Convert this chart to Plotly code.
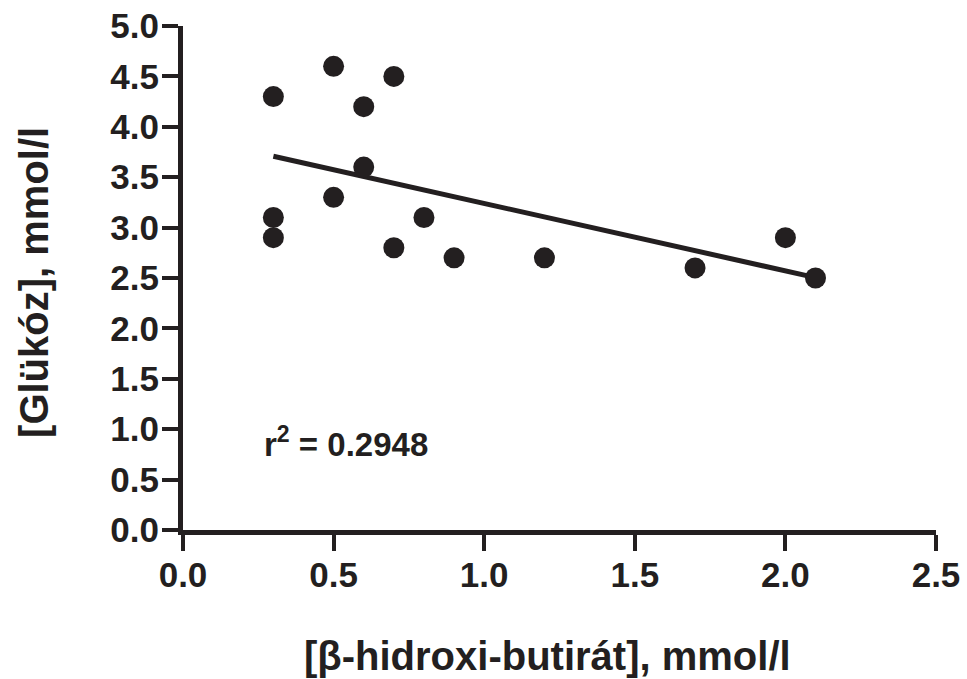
import numpy as np
import plotly.graph_objects as go

# Data
bhb = [0.3, 0.3, 0.3, 0.5, 0.5, 0.6, 0.6, 0.7, 0.7, 0.8, 0.9, 1.2, 1.7, 2.0, 2.1]
glucose = [4.3, 3.1, 2.9, 4.6, 3.3, 4.2, 3.6, 4.5, 2.8, 3.1, 2.7, 2.7, 2.6, 2.9, 2.5]
x_ticks = [0.0, 0.5, 1.0, 1.5, 2.0, 2.5]
y_ticks = [0.0, 0.5, 1.0, 1.5, 2.0, 2.5, 3.0, 3.5, 4.0, 4.5, 5.0]
r2_text = "r<sup>2</sup> = 0.2948"
x_title = "[β-hidroxi-butirát], mmol/l"
y_title = "[Glükóz], mmol/l"

INK = "#231f20"
FONT = "Liberation Sans, Arial, sans-serif"

slope, intercept = np.polyfit(bhb, glucose, 1)
fit_x = [min(bhb), max(bhb)]
fit_y = [slope * v + intercept for v in fit_x]

fig = go.Figure()
fig.add_trace(go.Scatter(x=fit_x, y=fit_y, mode="lines",
                         line=dict(color=INK, width=5), showlegend=False))
fig.add_trace(go.Scatter(x=bhb, y=glucose, mode="markers",
                         marker=dict(color=INK, size=21), showlegend=False))

axis_common = dict(showgrid=False, zeroline=False, showline=True, linewidth=5,
                   linecolor=INK, ticks="outside", ticklen=16, tickwidth=4,
                   tickcolor=INK, automargin=False,
                   tickfont=dict(family=FONT, size=35, color=INK, weight="bold"))

fig.update_xaxes(range=[0, 2.5], tickvals=x_ticks, ticklabelstandoff=-6,
                 ticktext=[f"<b>{v:.1f}</b>" for v in x_ticks], **axis_common)
fig.update_yaxes(range=[0, 5], tickvals=y_ticks, ticklabelstandoff=-4,
                 ticktext=[f"<b>{v:.1f}</b>" for v in y_ticks], **axis_common)

fig.update_layout(
    width=967, height=679,
    margin=dict(l=183, r=31, t=26, b=149),
    plot_bgcolor="white", paper_bgcolor="white",
    annotations=[
        dict(text="<b>" + r2_text + "</b>", x=0.262, y=0.87, xref="x", yref="y",
             xanchor="left", yanchor="middle", showarrow=False,
             font=dict(family=FONT, size=33, color=INK, weight="bold")),
        dict(text="<b>" + x_title + "</b>", x=0.484, y=-0.25, xref="paper", yref="paper",
             xanchor="center", yanchor="middle", showarrow=False,
             font=dict(family=FONT, size=40, color=INK, weight="bold")),
        dict(text="<b>" + y_title + "</b>", x=-0.198, y=0.492, xref="paper", yref="paper",
             xanchor="center", yanchor="middle", showarrow=False, textangle=-90,
             font=dict(family=FONT, size=40, color=INK, weight="bold")),
    ],
)

html = fig.to_html(include_plotlyjs=True, full_html=True,
                   config={"displayModeBar": False})
html = html.replace("<head>", "<head><style>html,body{margin:0;padding:0;overflow:hidden;}</style>", 1)
with open("out.html", "w", encoding="utf-8") as f:
    f.write(html)
